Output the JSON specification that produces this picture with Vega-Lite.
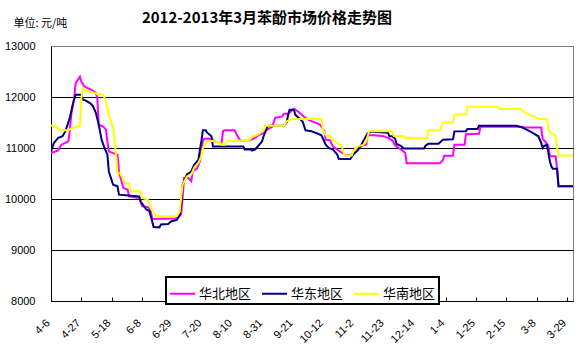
{
  "$schema": "https://vega.github.io/schema/vega-lite/v6.json",
  "width": 522,
  "height": 255,
  "autosize": {"type": "none"},
  "padding": {"left": 51, "top": 46, "right": 15, "bottom": 53},
  "background": "white",
  "title": {"text": "2012-2013年3月苯酚市场价格走势图", "font": "Noto Sans CJK SC", "fontSize": 15, "fontWeight": "bold", "color": "black", "anchor": "middle", "frame": "group", "dx": -45, "offset": 0, "dy": 9},
  "data": {"values": [
    {"date": "2012/04/06", "region": "华北地区", "price": 10900},
    {"date": "2012/04/11", "region": "华北地区", "price": 10950},
    {"date": "2012/04/13", "region": "华北地区", "price": 11060},
    {"date": "2012/04/18", "region": "华北地区", "price": 11130},
    {"date": "2012/04/19", "region": "华北地区", "price": 11330},
    {"date": "2012/04/20", "region": "华北地区", "price": 11650},
    {"date": "2012/04/22", "region": "华北地区", "price": 11980},
    {"date": "2012/04/23", "region": "华北地区", "price": 12270},
    {"date": "2012/04/26", "region": "华北地区", "price": 12400},
    {"date": "2012/04/27", "region": "华北地区", "price": 12300},
    {"date": "2012/04/29", "region": "华北地区", "price": 12210},
    {"date": "2012/05/01", "region": "华北地区", "price": 12180},
    {"date": "2012/05/04", "region": "华北地区", "price": 12140},
    {"date": "2012/05/07", "region": "华北地区", "price": 12080},
    {"date": "2012/05/08", "region": "华北地区", "price": 11980},
    {"date": "2012/05/09", "region": "华北地区", "price": 11460},
    {"date": "2012/05/12", "region": "华北地区", "price": 11420},
    {"date": "2012/05/14", "region": "华北地区", "price": 11360},
    {"date": "2012/05/15", "region": "华北地区", "price": 11130},
    {"date": "2012/05/16", "region": "华北地区", "price": 10930},
    {"date": "2012/05/19", "region": "华北地区", "price": 10900},
    {"date": "2012/05/22", "region": "华北地区", "price": 10870},
    {"date": "2012/05/23", "region": "华北地区", "price": 10540},
    {"date": "2012/05/26", "region": "华北地区", "price": 10220},
    {"date": "2012/05/29", "region": "华北地区", "price": 10180},
    {"date": "2012/05/30", "region": "华北地区", "price": 10050},
    {"date": "2012/06/06", "region": "华北地区", "price": 10020},
    {"date": "2012/06/08", "region": "华北地区", "price": 9860},
    {"date": "2012/06/12", "region": "华北地区", "price": 9840},
    {"date": "2012/06/14", "region": "华北地区", "price": 9760},
    {"date": "2012/06/15", "region": "华北地区", "price": 9610},
    {"date": "2012/07/01", "region": "华北地区", "price": 9620},
    {"date": "2012/07/03", "region": "华北地区", "price": 9640},
    {"date": "2012/07/05", "region": "华北地区", "price": 9700},
    {"date": "2012/07/06", "region": "华北地区", "price": 10020},
    {"date": "2012/07/07", "region": "华北地区", "price": 10410},
    {"date": "2012/07/10", "region": "华北地区", "price": 10410},
    {"date": "2012/07/12", "region": "华北地区", "price": 10350},
    {"date": "2012/07/13", "region": "华北地区", "price": 10540},
    {"date": "2012/07/16", "region": "华北地区", "price": 10600},
    {"date": "2012/07/18", "region": "华北地区", "price": 10740},
    {"date": "2012/07/19", "region": "华北地区", "price": 10930},
    {"date": "2012/07/20", "region": "华北地区", "price": 11130},
    {"date": "2012/07/21", "region": "华北地区", "price": 11180},
    {"date": "2012/07/26", "region": "华北地区", "price": 11180},
    {"date": "2012/07/29", "region": "华北地区", "price": 11120},
    {"date": "2012/08/02", "region": "华北地区", "price": 11100},
    {"date": "2012/08/03", "region": "华北地区", "price": 11330},
    {"date": "2012/08/04", "region": "华北地区", "price": 11350},
    {"date": "2012/08/11", "region": "华北地区", "price": 11350},
    {"date": "2012/08/13", "region": "华北地区", "price": 11230},
    {"date": "2012/08/15", "region": "华北地区", "price": 11140},
    {"date": "2012/08/21", "region": "华北地区", "price": 11140},
    {"date": "2012/08/25", "region": "华北地区", "price": 11200},
    {"date": "2012/08/28", "region": "华北地区", "price": 11260},
    {"date": "2012/08/31", "region": "华北地区", "price": 11290},
    {"date": "2012/09/01", "region": "华北地区", "price": 11330},
    {"date": "2012/09/06", "region": "华北地区", "price": 11420},
    {"date": "2012/09/08", "region": "华北地区", "price": 11590},
    {"date": "2012/09/13", "region": "华北地区", "price": 11620},
    {"date": "2012/09/14", "region": "华北地区", "price": 11670},
    {"date": "2012/09/17", "region": "华北地区", "price": 11670},
    {"date": "2012/09/21", "region": "华北地区", "price": 11770},
    {"date": "2012/09/24", "region": "华北地区", "price": 11710},
    {"date": "2012/09/29", "region": "华北地区", "price": 11590},
    {"date": "2012/10/02", "region": "华北地区", "price": 11540},
    {"date": "2012/10/09", "region": "华北地区", "price": 11460},
    {"date": "2012/10/12", "region": "华北地区", "price": 11330},
    {"date": "2012/10/13", "region": "华北地区", "price": 11160},
    {"date": "2012/10/16", "region": "华北地区", "price": 11150},
    {"date": "2012/10/18", "region": "华北地区", "price": 11030},
    {"date": "2012/10/22", "region": "华北地区", "price": 10950},
    {"date": "2012/10/27", "region": "华北地区", "price": 10855},
    {"date": "2012/10/31", "region": "华北地区", "price": 10870},
    {"date": "2012/11/02", "region": "华北地区", "price": 10960},
    {"date": "2012/11/05", "region": "华北地区", "price": 11030},
    {"date": "2012/11/10", "region": "华北地区", "price": 11070},
    {"date": "2012/11/11", "region": "华北地区", "price": 11250},
    {"date": "2012/11/16", "region": "华北地区", "price": 11250},
    {"date": "2012/11/22", "region": "华北地区", "price": 11230},
    {"date": "2012/11/25", "region": "华北地区", "price": 11200},
    {"date": "2012/11/28", "region": "华北地区", "price": 11150},
    {"date": "2012/11/30", "region": "华北地区", "price": 11050},
    {"date": "2012/12/03", "region": "华北地区", "price": 10990},
    {"date": "2012/12/05", "region": "华北地区", "price": 10950},
    {"date": "2012/12/07", "region": "华北地区", "price": 10900},
    {"date": "2012/12/08", "region": "华北地区", "price": 10700},
    {"date": "2012/12/31", "region": "华北地区", "price": 10700},
    {"date": "2013/01/02", "region": "华北地区", "price": 10760},
    {"date": "2013/01/03", "region": "华北地区", "price": 10850},
    {"date": "2013/01/09", "region": "华北地区", "price": 10850},
    {"date": "2013/01/10", "region": "华北地区", "price": 11065},
    {"date": "2013/01/17", "region": "华北地区", "price": 11065},
    {"date": "2013/01/18", "region": "华北地区", "price": 11270},
    {"date": "2013/01/27", "region": "华北地区", "price": 11280},
    {"date": "2013/01/28", "region": "华北地区", "price": 11415},
    {"date": "2013/02/26", "region": "华北地区", "price": 11415},
    {"date": "2013/02/28", "region": "华北地区", "price": 11400},
    {"date": "2013/03/11", "region": "华北地区", "price": 11400},
    {"date": "2013/03/12", "region": "华北地区", "price": 11180},
    {"date": "2013/03/14", "region": "华北地区", "price": 11120},
    {"date": "2013/03/16", "region": "华北地区", "price": 11030},
    {"date": "2013/03/17", "region": "华北地区", "price": 10840},
    {"date": "2013/03/21", "region": "华北地区", "price": 10840},
    {"date": "2013/03/22", "region": "华北地区", "price": 10580},
    {"date": "2013/03/23", "region": "华北地区", "price": 10250},
    {"date": "2013/04/02", "region": "华北地区", "price": 10250},

    {"date": "2012/04/06", "region": "华东地区", "price": 10930},
    {"date": "2012/04/08", "region": "华东地区", "price": 11100},
    {"date": "2012/04/11", "region": "华东地区", "price": 11200},
    {"date": "2012/04/14", "region": "华东地区", "price": 11230},
    {"date": "2012/04/16", "region": "华东地区", "price": 11330},
    {"date": "2012/04/19", "region": "华东地区", "price": 11590},
    {"date": "2012/04/21", "region": "华东地区", "price": 11850},
    {"date": "2012/04/23", "region": "华东地区", "price": 12045},
    {"date": "2012/04/27", "region": "华东地区", "price": 12045},
    {"date": "2012/04/28", "region": "华东地区", "price": 11950},
    {"date": "2012/04/30", "region": "华东地区", "price": 11930},
    {"date": "2012/05/03", "region": "华东地区", "price": 11880},
    {"date": "2012/05/05", "region": "华东地区", "price": 11820},
    {"date": "2012/05/07", "region": "华东地区", "price": 11690},
    {"date": "2012/05/09", "region": "华东地区", "price": 11460},
    {"date": "2012/05/11", "region": "华东地区", "price": 11160},
    {"date": "2012/05/13", "region": "华东地区", "price": 11000},
    {"date": "2012/05/15", "region": "华东地区", "price": 10870},
    {"date": "2012/05/16", "region": "华东地区", "price": 10540},
    {"date": "2012/05/19", "region": "华东地区", "price": 10280},
    {"date": "2012/05/22", "region": "华东地区", "price": 10250},
    {"date": "2012/05/23", "region": "华东地区", "price": 10085},
    {"date": "2012/06/06", "region": "华东地区", "price": 10050},
    {"date": "2012/06/07", "region": "华东地区", "price": 9950},
    {"date": "2012/06/11", "region": "华东地区", "price": 9790},
    {"date": "2012/06/13", "region": "华东地区", "price": 9770},
    {"date": "2012/06/14", "region": "华东地区", "price": 9660},
    {"date": "2012/06/16", "region": "华东地区", "price": 9450},
    {"date": "2012/06/20", "region": "华东地区", "price": 9444},
    {"date": "2012/06/21", "region": "华东地区", "price": 9500},
    {"date": "2012/06/26", "region": "华东地区", "price": 9510},
    {"date": "2012/06/28", "region": "华东地区", "price": 9560},
    {"date": "2012/07/02", "region": "华东地区", "price": 9590},
    {"date": "2012/07/04", "region": "华东地区", "price": 9690},
    {"date": "2012/07/05", "region": "华东地区", "price": 9890},
    {"date": "2012/07/06", "region": "华东地区", "price": 10280},
    {"date": "2012/07/09", "region": "华东地区", "price": 10480},
    {"date": "2012/07/12", "region": "华东地区", "price": 10540},
    {"date": "2012/07/14", "region": "华东地区", "price": 10670},
    {"date": "2012/07/17", "region": "华东地区", "price": 10770},
    {"date": "2012/07/18", "region": "华东地区", "price": 10970},
    {"date": "2012/07/19", "region": "华东地区", "price": 11130},
    {"date": "2012/07/20", "region": "华东地区", "price": 11346},
    {"date": "2012/07/22", "region": "华东地区", "price": 11346},
    {"date": "2012/07/23", "region": "华东地区", "price": 11300},
    {"date": "2012/07/26", "region": "华东地区", "price": 11230},
    {"date": "2012/07/27", "region": "华东地区", "price": 11030},
    {"date": "2012/08/17", "region": "华东地区", "price": 11030},
    {"date": "2012/08/18", "region": "华东地区", "price": 10970},
    {"date": "2012/08/22", "region": "华东地区", "price": 10970},
    {"date": "2012/08/23", "region": "华东地区", "price": 10950},
    {"date": "2012/08/25", "region": "华东地区", "price": 10970},
    {"date": "2012/08/27", "region": "华东地区", "price": 11030},
    {"date": "2012/08/30", "region": "华东地区", "price": 11130},
    {"date": "2012/08/31", "region": "华东地区", "price": 11230},
    {"date": "2012/09/01", "region": "华东地区", "price": 11300},
    {"date": "2012/09/03", "region": "华东地区", "price": 11437},
    {"date": "2012/09/14", "region": "华东地区", "price": 11440},
    {"date": "2012/09/16", "region": "华东地区", "price": 11500},
    {"date": "2012/09/17", "region": "华东地区", "price": 11650},
    {"date": "2012/09/18", "region": "华东地区", "price": 11750},
    {"date": "2012/09/21", "region": "华东地区", "price": 11750},
    {"date": "2012/09/22", "region": "华东地区", "price": 11650},
    {"date": "2012/09/24", "region": "华东地区", "price": 11600},
    {"date": "2012/09/27", "region": "华东地区", "price": 11520},
    {"date": "2012/09/29", "region": "华东地区", "price": 11346},
    {"date": "2012/10/03", "region": "华东地区", "price": 11330},
    {"date": "2012/10/08", "region": "华东地区", "price": 11275},
    {"date": "2012/10/10", "region": "华东地区", "price": 11250},
    {"date": "2012/10/13", "region": "华东地区", "price": 11065},
    {"date": "2012/10/15", "region": "华东地区", "price": 11000},
    {"date": "2012/10/18", "region": "华东地区", "price": 10970},
    {"date": "2012/10/21", "region": "华东地区", "price": 10870},
    {"date": "2012/10/22", "region": "华东地区", "price": 10785},
    {"date": "2012/10/30", "region": "华东地区", "price": 10785},
    {"date": "2012/11/01", "region": "华东地区", "price": 10870},
    {"date": "2012/11/04", "region": "华东地区", "price": 10950},
    {"date": "2012/11/06", "region": "华东地区", "price": 11030},
    {"date": "2012/11/08", "region": "华东地区", "price": 11140},
    {"date": "2012/11/11", "region": "华东地区", "price": 11290},
    {"date": "2012/11/14", "region": "华东地区", "price": 11320},
    {"date": "2012/11/25", "region": "华东地区", "price": 11300},
    {"date": "2012/11/26", "region": "华东地区", "price": 11230},
    {"date": "2012/11/28", "region": "华东地区", "price": 11230},
    {"date": "2012/11/30", "region": "华东地区", "price": 11180},
    {"date": "2012/12/01", "region": "华东地区", "price": 11080},
    {"date": "2012/12/04", "region": "华东地区", "price": 11040},
    {"date": "2012/12/06", "region": "华东地区", "price": 10990},
    {"date": "2012/12/20", "region": "华东地区", "price": 10990},
    {"date": "2012/12/21", "region": "华东地区", "price": 11045},
    {"date": "2012/12/23", "region": "华东地区", "price": 11085},
    {"date": "2012/12/30", "region": "华东地区", "price": 11085},
    {"date": "2013/01/02", "region": "华东地区", "price": 11163},
    {"date": "2013/01/09", "region": "华东地区", "price": 11170},
    {"date": "2013/01/10", "region": "华东地区", "price": 11326},
    {"date": "2013/01/18", "region": "华东地区", "price": 11330},
    {"date": "2013/01/19", "region": "华东地区", "price": 11373},
    {"date": "2013/01/26", "region": "华东地区", "price": 11373},
    {"date": "2013/01/27", "region": "华东地区", "price": 11437},
    {"date": "2013/02/22", "region": "华东地区", "price": 11437},
    {"date": "2013/02/26", "region": "华东地区", "price": 11400},
    {"date": "2013/03/03", "region": "华东地区", "price": 11330},
    {"date": "2013/03/06", "region": "华东地区", "price": 11280},
    {"date": "2013/03/09", "region": "华东地区", "price": 11230},
    {"date": "2013/03/11", "region": "华东地区", "price": 11100},
    {"date": "2013/03/12", "region": "华东地区", "price": 11000},
    {"date": "2013/03/13", "region": "华东地区", "price": 11040},
    {"date": "2013/03/15", "region": "华东地区", "price": 11060},
    {"date": "2013/03/16", "region": "华东地区", "price": 10900},
    {"date": "2013/03/17", "region": "华东地区", "price": 10740},
    {"date": "2013/03/18", "region": "华东地区", "price": 10640},
    {"date": "2013/03/19", "region": "华东地区", "price": 10595},
    {"date": "2013/03/22", "region": "华东地区", "price": 10595},
    {"date": "2013/03/23", "region": "华东地区", "price": 10250},
    {"date": "2013/04/02", "region": "华东地区", "price": 10250},

    {"date": "2012/04/06", "region": "华南地区", "price": 11440},
    {"date": "2012/04/09", "region": "华南地区", "price": 11430},
    {"date": "2012/04/12", "region": "华南地区", "price": 11350},
    {"date": "2012/04/18", "region": "华南地区", "price": 11350},
    {"date": "2012/04/20", "region": "华南地区", "price": 11380},
    {"date": "2012/04/24", "region": "华南地区", "price": 11420},
    {"date": "2012/04/26", "region": "华南地区", "price": 11430},
    {"date": "2012/04/27", "region": "华南地区", "price": 11980},
    {"date": "2012/04/28", "region": "华南地区", "price": 12180},
    {"date": "2012/04/30", "region": "华南地区", "price": 12120},
    {"date": "2012/05/04", "region": "华南地区", "price": 12100},
    {"date": "2012/05/08", "region": "华南地区", "price": 12060},
    {"date": "2012/05/12", "region": "华南地区", "price": 12045},
    {"date": "2012/05/14", "region": "华南地区", "price": 11910},
    {"date": "2012/05/16", "region": "华南地区", "price": 11650},
    {"date": "2012/05/19", "region": "华南地区", "price": 11390},
    {"date": "2012/05/21", "region": "华南地区", "price": 10870},
    {"date": "2012/05/22", "region": "华南地区", "price": 10510},
    {"date": "2012/05/24", "region": "华南地区", "price": 10500},
    {"date": "2012/05/27", "region": "华南地区", "price": 10310},
    {"date": "2012/05/30", "region": "华南地区", "price": 10300},
    {"date": "2012/05/31", "region": "华南地区", "price": 10150},
    {"date": "2012/06/07", "region": "华南地区", "price": 10150},
    {"date": "2012/06/08", "region": "华南地区", "price": 10020},
    {"date": "2012/06/12", "region": "华南地区", "price": 9990},
    {"date": "2012/06/14", "region": "华南地区", "price": 9820},
    {"date": "2012/06/16", "region": "华南地区", "price": 9730},
    {"date": "2012/06/18", "region": "华南地区", "price": 9660},
    {"date": "2012/07/02", "region": "华南地区", "price": 9660},
    {"date": "2012/07/04", "region": "华南地区", "price": 9750},
    {"date": "2012/07/05", "region": "华南地区", "price": 10020},
    {"date": "2012/07/06", "region": "华南地区", "price": 10280},
    {"date": "2012/07/09", "region": "华南地区", "price": 10440},
    {"date": "2012/07/12", "region": "华南地区", "price": 10480},
    {"date": "2012/07/14", "region": "华南地区", "price": 10610},
    {"date": "2012/07/17", "region": "华南地区", "price": 10710},
    {"date": "2012/07/19", "region": "华南地区", "price": 10840},
    {"date": "2012/07/20", "region": "华南地区", "price": 11000},
    {"date": "2012/07/23", "region": "华南地区", "price": 11130},
    {"date": "2012/07/27", "region": "华南地区", "price": 11140},
    {"date": "2012/08/01", "region": "华南地区", "price": 11100},
    {"date": "2012/08/02", "region": "华南地区", "price": 11065},
    {"date": "2012/08/04", "region": "华南地区", "price": 11065},
    {"date": "2012/08/06", "region": "华南地区", "price": 11143},
    {"date": "2012/08/21", "region": "华南地区", "price": 11143},
    {"date": "2012/08/23", "region": "华南地区", "price": 11228},
    {"date": "2012/08/26", "region": "华南地区", "price": 11250},
    {"date": "2012/08/28", "region": "华南地区", "price": 11280},
    {"date": "2012/08/31", "region": "华南地区", "price": 11340},
    {"date": "2012/09/01", "region": "华南地区", "price": 11437},
    {"date": "2012/09/14", "region": "华南地区", "price": 11437},
    {"date": "2012/09/16", "region": "华南地区", "price": 11522},
    {"date": "2012/09/20", "region": "华南地区", "price": 11569},
    {"date": "2012/10/10", "region": "华南地区", "price": 11569},
    {"date": "2012/10/11", "region": "华南地区", "price": 11360},
    {"date": "2012/10/13", "region": "华南地区", "price": 11247},
    {"date": "2012/10/16", "region": "华南地区", "price": 11240},
    {"date": "2012/10/19", "region": "华南地区", "price": 11130},
    {"date": "2012/10/24", "region": "华南地区", "price": 11045},
    {"date": "2012/10/26", "region": "华南地区", "price": 10855},
    {"date": "2012/10/31", "region": "华南地区", "price": 10855},
    {"date": "2012/11/01", "region": "华南地区", "price": 10930},
    {"date": "2012/11/04", "region": "华南地区", "price": 11032},
    {"date": "2012/11/08", "region": "华南地区", "price": 11060},
    {"date": "2012/11/10", "region": "华南地区", "price": 11130},
    {"date": "2012/11/12", "region": "华南地区", "price": 11326},
    {"date": "2012/11/28", "region": "华南地区", "price": 11326},
    {"date": "2012/11/29", "region": "华南地区", "price": 11241},
    {"date": "2012/12/06", "region": "华南地区", "price": 11230},
    {"date": "2012/12/07", "region": "华南地区", "price": 11196},
    {"date": "2012/12/22", "region": "华南地区", "price": 11196},
    {"date": "2012/12/23", "region": "华南地区", "price": 11346},
    {"date": "2012/12/31", "region": "华南地区", "price": 11346},
    {"date": "2013/01/01", "region": "华南地区", "price": 11420},
    {"date": "2013/01/02", "region": "华南地区", "price": 11502},
    {"date": "2013/01/09", "region": "华南地区", "price": 11502},
    {"date": "2013/01/10", "region": "华南地区", "price": 11653},
    {"date": "2013/01/18", "region": "华南地区", "price": 11660},
    {"date": "2013/01/19", "region": "华南地区", "price": 11810},
    {"date": "2013/02/09", "region": "华南地区", "price": 11810},
    {"date": "2013/02/10", "region": "华南地区", "price": 11765},
    {"date": "2013/02/25", "region": "华南地区", "price": 11765},
    {"date": "2013/02/27", "region": "华南地区", "price": 11710},
    {"date": "2013/03/03", "region": "华南地区", "price": 11650},
    {"date": "2013/03/06", "region": "华南地区", "price": 11620},
    {"date": "2013/03/09", "region": "华南地区", "price": 11569},
    {"date": "2013/03/15", "region": "华南地区", "price": 11569},
    {"date": "2013/03/16", "region": "华南地区", "price": 11359},
    {"date": "2013/03/18", "region": "华南地区", "price": 11280},
    {"date": "2013/03/21", "region": "华南地区", "price": 11247},
    {"date": "2013/03/22", "region": "华南地区", "price": 11000},
    {"date": "2013/03/23", "region": "华南地区", "price": 10855},
    {"date": "2013/04/02", "region": "华南地区", "price": 10855}
  ]},
  "mark": {"type": "line", "strokeWidth": 2, "clip": true},
  "encoding": {
    "x": {
      "field": "date",
      "type": "temporal",
      "scale": {"domain": [{"year": 2012, "month": 4, "date": 6}, {"year": 2013, "month": 4, "date": 2}]},
      "axis": {
        "title": null,
        "values": [
          {"year": 2012, "month": 4, "date": 6},
          {"year": 2012, "month": 4, "date": 27},
          {"year": 2012, "month": 5, "date": 18},
          {"year": 2012, "month": 6, "date": 8},
          {"year": 2012, "month": 6, "date": 29},
          {"year": 2012, "month": 7, "date": 20},
          {"year": 2012, "month": 8, "date": 10},
          {"year": 2012, "month": 8, "date": 31},
          {"year": 2012, "month": 9, "date": 21},
          {"year": 2012, "month": 10, "date": 12},
          {"year": 2012, "month": 11, "date": 2},
          {"year": 2012, "month": 11, "date": 23},
          {"year": 2012, "month": 12, "date": 14},
          {"year": 2013, "month": 1, "date": 4},
          {"year": 2013, "month": 1, "date": 25},
          {"year": 2013, "month": 2, "date": 15},
          {"year": 2013, "month": 3, "date": 8},
          {"year": 2013, "month": 3, "date": 29}
        ],
        "format": "%-m-%-d",
        "labelAngle": -45,
        "labelAlign": "right",
        "labelBaseline": "middle",
        "labelPadding": 24,
        "labelOffset": -3,
        "labelFont": "Liberation Sans",
        "labelFontSize": 11,
        "labelColor": "black",
        "labelFlush": false,
        "labelOverlap": false,
        "tickSize": -4,
        "tickColor": "black",
        "domainColor": "black",
        "grid": false
      }
    },
    "y": {
      "field": "price",
      "type": "quantitative",
      "scale": {"domain": [8000, 13000], "nice": false, "zero": false},
      "axis": {
        "title": "单位: 元/吨",
        "titleAngle": 0,
        "titleX": -38,
        "titleY": -20,
        "titleAlign": "left",
        "titleBaseline": "alphabetic",
        "titleFont": "Noto Sans CJK SC",
        "titleFontSize": 11,
        "titleFontWeight": "normal",
        "titleColor": "black",
        "values": [8000, 9000, 10000, 11000, 12000, 13000],
        "format": "d",
        "ticks": false,
        "labelPadding": 16,
        "labelFont": "Liberation Sans",
        "labelFontSize": 11,
        "labelColor": "black",
        "domainColor": "black",
        "grid": true,
        "gridColor": {"condition": {"test": "datum.value == 13000", "value": "#808080"}, "value": "black"},
        "gridOpacity": 1
      }
    },
    "color": {
      "field": "region",
      "type": "nominal",
      "scale": {"domain": ["华北地区", "华东地区", "华南地区"], "range": ["#FF00FF", "#000080", "#FFFF00"]},
      "legend": {
        "title": null,
        "orient": "none",
        "legendX": 115,
        "legendY": 231,
        "direction": "horizontal",
        "fillColor": "white",
        "strokeColor": "black",
        "padding": 3,
        "symbolType": "stroke",
        "symbolSize": 625,
        "symbolStrokeWidth": 2,
        "labelFont": "Noto Sans CJK SC",
        "labelFontSize": 13,
        "labelColor": "black",
        "labelOffset": 3,
        "columnPadding": 6
      }
    }
  },
  "config": {
    "view": {"stroke": "#808080", "strokeWidth": 1},
    "legend": {"strokeWidth": 2}
  }
}
